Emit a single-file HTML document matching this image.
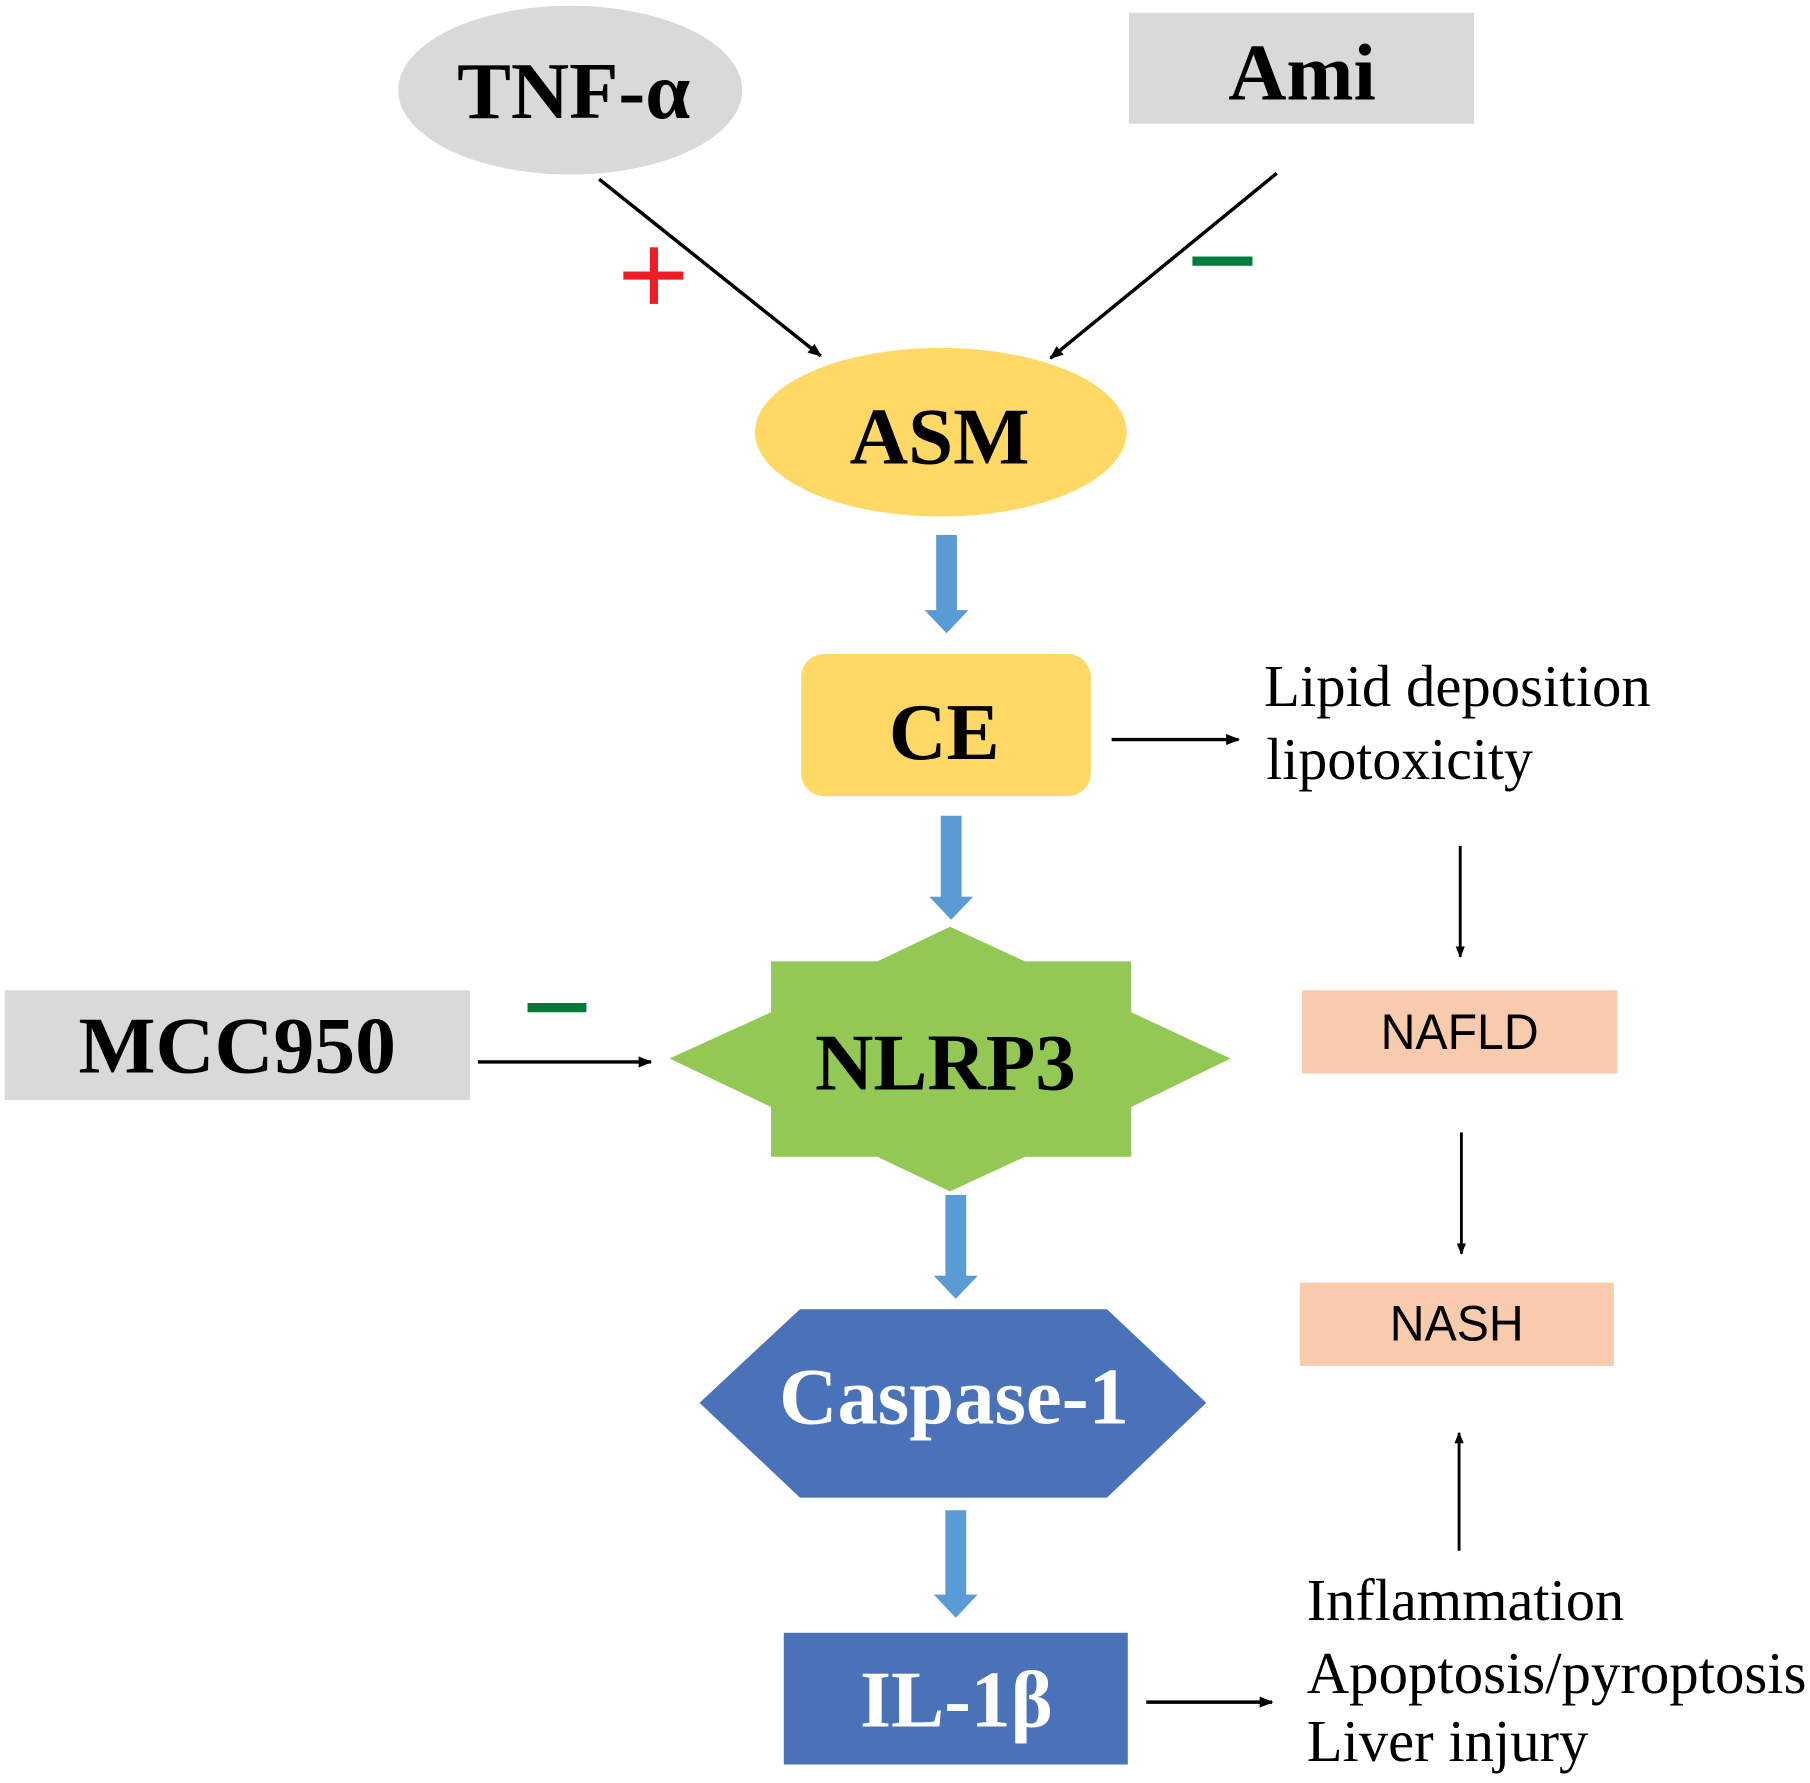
<!DOCTYPE html>
<html><head><meta charset="utf-8"><style>html,body{margin:0;padding:0;background:#fff}svg{display:block}</style></head>
<body>
<svg width="1810" height="1783" viewBox="0 0 1568 1543" preserveAspectRatio="none" xmlns="http://www.w3.org/2000/svg">
<defs>
<marker id="ah" viewBox="0 0 10 10" refX="9" refY="5" markerWidth="4" markerHeight="4" orient="auto"><path d="M0,1 L10,5 L0,9 Z" fill="#000"/></marker>
</defs>
<g font-family="'Liberation Serif',serif" font-weight="bold" text-anchor="start">
<!-- TNF -->
<ellipse cx="494" cy="78" rx="149" ry="73" fill="#d9d9d9"/>
<text x="396" y="102" font-size="70" textLength="202" lengthAdjust="spacingAndGlyphs">TNF-α</text>
<!-- Ami -->
<rect x="978" y="11" width="299" height="96" fill="#d9d9d9"/>
<text x="1064" y="86" font-size="70" textLength="128" lengthAdjust="spacingAndGlyphs">Ami</text>
<!-- arrows -->
<line x1="519" y1="155" x2="711" y2="308" stroke="#000" stroke-width="3" marker-end="url(#ah)"/>
<line x1="1106" y1="150" x2="910" y2="310" stroke="#000" stroke-width="3" marker-end="url(#ah)"/>
<rect x="540" y="235" width="52" height="7" fill="#ee1c25"/>
<rect x="563" y="214" width="7" height="49" fill="#ee1c25"/>
<rect x="1033" y="222" width="52" height="8" fill="#007a3d"/>
<!-- ASM -->
<ellipse cx="815" cy="374" rx="161" ry="73" fill="#ffd966"/>
<text x="736" y="401" font-size="70" textLength="156" lengthAdjust="spacingAndGlyphs">ASM</text>
<!-- blue arrows -->
<path d="M811,463 H829 V528 H839 L820,548 L801,528 H811 Z" fill="#5b9bd5"/>
<path d="M815,706 H833 V776 H843 L824,796 L805,776 H815 Z" fill="#5b9bd5"/>
<path d="M819,1034 H837 V1104 H847 L828,1124 L809,1104 H819 Z" fill="#5b9bd5"/>
<path d="M819,1307 H837 V1380 H847 L828,1400 L809,1380 H819 Z" fill="#5b9bd5"/>
<!-- CE -->
<rect x="694" y="566" width="251" height="123" rx="20" fill="#ffd966"/>
<text x="770" y="657" font-size="70" textLength="96" lengthAdjust="spacingAndGlyphs">CE</text>
<line x1="963" y1="640" x2="1073" y2="640" stroke="#000" stroke-width="3" marker-end="url(#ah)"/>
<!-- NLRP3 -->
<polygon points="823,802 888,832 980,832 980,876 1066,916 980,958 980,1001 888,1001 823,1031 760,1001 668,1001 668,958 580,916 668,876 668,832 760,832" fill="#92c853"/>
<text x="706" y="943" font-size="70" textLength="226" lengthAdjust="spacingAndGlyphs">NLRP3</text>
<!-- MCC950 -->
<rect x="4" y="857" width="403" height="95" fill="#d9d9d9"/>
<text x="68" y="928" font-size="70" textLength="275" lengthAdjust="spacingAndGlyphs">MCC950</text>
<rect x="457" y="868" width="51" height="8" fill="#007a3d"/>
<line x1="414" y1="919" x2="564" y2="919" stroke="#000" stroke-width="3" marker-end="url(#ah)"/>
<!-- Caspase -->
<polygon points="606,1214 693,1133 959,1133 1045,1214 959,1296 693,1296" fill="#4a72b8"/>
<text x="675" y="1232" font-size="70" fill="#fff" textLength="303" lengthAdjust="spacingAndGlyphs">Caspase-1</text>
<!-- IL-1b -->
<rect x="679" y="1413" width="298" height="114" fill="#4a72b8"/>
<text x="745" y="1494" font-size="70" fill="#fff" textLength="167" lengthAdjust="spacingAndGlyphs">IL-1β</text>
<line x1="993" y1="1473" x2="1102" y2="1473" stroke="#000" stroke-width="3" marker-end="url(#ah)"/>
</g>
<g font-family="'Liberation Serif',serif" font-size="51">
<text x="1095" y="611" textLength="335" lengthAdjust="spacingAndGlyphs">Lipid deposition</text>
<text x="1097" y="674" textLength="231" lengthAdjust="spacingAndGlyphs">lipotoxicity</text>
<text x="1132" y="1402" textLength="275" lengthAdjust="spacingAndGlyphs">Inflammation</text>
<text x="1132" y="1465" textLength="433" lengthAdjust="spacingAndGlyphs">Apoptosis/pyroptosis</text>
<text x="1132" y="1524" textLength="244" lengthAdjust="spacingAndGlyphs">Liver injury</text>
</g>
<!-- right column -->
<line x1="1265" y1="732" x2="1265" y2="828" stroke="#000" stroke-width="2.5" marker-end="url(#ah)"/>
<rect x="1128" y="857" width="273" height="72" fill="#f8cbad"/>
<text x="1196" y="908" font-family="'Liberation Sans',sans-serif" font-size="43" textLength="137" lengthAdjust="spacingAndGlyphs">NAFLD</text>
<line x1="1266" y1="980" x2="1266" y2="1085" stroke="#000" stroke-width="2.5" marker-end="url(#ah)"/>
<rect x="1126" y="1110" width="272" height="72" fill="#f8cbad"/>
<text x="1204" y="1160" font-family="'Liberation Sans',sans-serif" font-size="43" textLength="116" lengthAdjust="spacingAndGlyphs">NASH</text>
<line x1="1264" y1="1342" x2="1264" y2="1240" stroke="#000" stroke-width="2.5" marker-end="url(#ah)"/>
</svg>
</body></html>
